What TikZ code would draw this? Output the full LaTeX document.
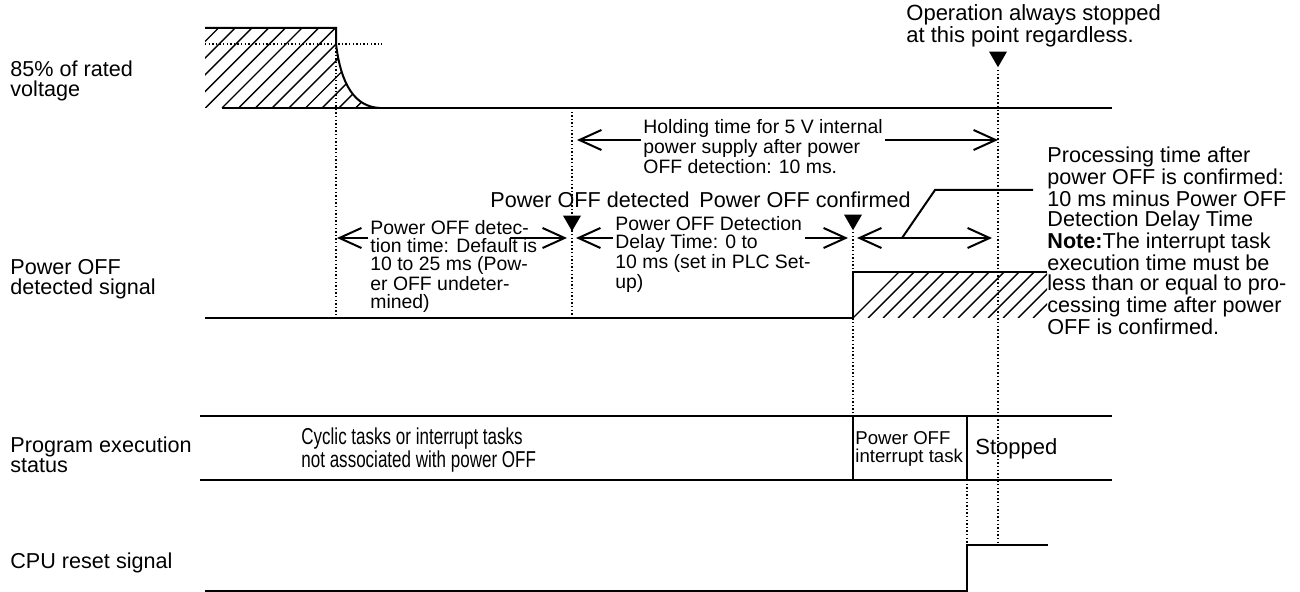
\documentclass[tikz,border=0pt]{standalone}
\usepackage{fontspec}
\setmainfont{Liberation Sans}
\newfontfamily\condfont[FakeStretch=0.74]{Liberation Sans}
\usetikzlibrary{arrows.meta,shapes.geometric}

\begin{document}
\begin{tikzpicture}[
  x=0.5pt, y=-0.5pt,
  sig/.style={line width=1pt},
  guide/.style={line width=0.7pt,dash pattern=on 0.7pt off 1.1pt},
  hatchline/.style={line width=0.7pt},
  dimline/.style={line width=1pt},
  >={Straight Barb[length=11pt,width=10pt]},
  tri/.style={regular polygon,regular polygon sides=3,shape border rotate=180,fill=black,inner sep=0pt,minimum size=10.4pt,anchor=corner 1},
  lbl/.style={anchor=base west,inner sep=0pt,align=left,font=\fontsize{10.8}{10}\selectfont},
  note/.style={anchor=base west,inner sep=0pt,align=left,font=\fontsize{9.7}{9}\selectfont},
  big/.style={anchor=base west,inner sep=0pt,align=left,font=\fontsize{10.8}{10}\selectfont}
]
  \fill[white] (0,0) rectangle (1300,592);
  \useasboundingbox (0,0) rectangle (1300,592);

  % signal names (anchored at the last line)
  \node[lbl] (volt) at (10,97) {85\% of rated\\voltage};
  \node[lbl] (detsig) at (10,295) {Power OFF\\detected signal};
  \node[lbl] (prog) at (10,473) {Program execution\\status};
  \node[lbl] (cpu) at (10,568) {CPU reset signal};

  % voltage
  \coordinate (vEdge) at (336,28);
  \coordinate (vKnee) at (336,44);
  \coordinate (vLow) at (380,108);
  \begin{scope}
    \clip (205,28) -- (vEdge) -- (vKnee) .. controls (341,85) and (355,107) .. (vLow) -- (205,108) -- cycle;
    \foreach \i in {-7,...,10}
      \draw[hatchline] ({222+16.7*\i},108) -- ++(90,-90);
  \end{scope}
  \draw[sig] (205,28) -- (vEdge) -- (vKnee) .. controls (341,85) and (355,107) .. (vLow);
  \draw[sig] (222,108) -- (1112,108);
  \draw[guide] (205,44) -- (382,44);

  % power OFF detected signal
  \begin{scope}
    \clip (853,272) rectangle (1047,318);
    \foreach \i in {0,...,16}
      \draw[hatchline] ({853+15*\i},318) -- ++(50,-50);
  \end{scope}
  \draw[sig] (205,318) -- (853,318) -- (853,272) -- (1047,272);

  % program execution status
  \draw[sig] (200,416) -- (1112,416);
  \draw[sig] (200,480) -- (1112,480);
  \draw[sig] (853,416) -- (853,480);
  \draw[sig] (967,416) -- (967,480);
  \node[lbl,font=\condfont\fontsize{11.5}{10.5}\selectfont] (cyc) at (301,468) {Cyclic tasks or interrupt tasks\\not associated with power OFF};
  \node[lbl,font=\fontsize{9.3}{9}\selectfont] (pint) at (855,463) {Power OFF\\interrupt task};
  \node[lbl,font=\fontsize{11}{10}\selectfont] (stop) at (975,455) {Stopped};

  % CPU reset signal
  \draw[sig] (205,591) -- (967,591) -- (967,545) -- (1048,545);

  % time marks
  \draw[guide] (336,44) -- (336,318);
  \draw[guide] (572,108) -- (572,318);
  \draw[guide] (998,70) -- (998,545);
  \draw[guide] (853,232) -- (853,416);
  \draw[guide] (967,480) -- (967,545);
  \node[tri] (detTri) at (572,232) {};
  \node[tri] (confTri) at (853,231) {};
  \node[tri] (stopTri) at (998,68) {};

  % events
  \node[big,font=\fontsize{11}{10}\selectfont] (opstop) at (906,43) {Operation always stopped\\at this point regardless.};
  \node[lbl] (detd) at (490,208) {Power OFF detected};
  \node[lbl] (conf) at (699,208) {Power OFF confirmed};

  % holding time
  \node[note] (hold) at (643,174) {Holding time for 5 V internal\\power supply after power\\OFF detection: 10 ms.};
  \coordinate (holdL) at (577,140);
  \coordinate (holdR) at (998,140);
  \draw[dimline,->] (641,140) -- (holdL);
  \draw[dimline,->] (885,140) -- (holdR);

  % detection time
  \node[note] (dtime) at (370,309) {Power OFF detec-\\tion time: Default is\\10 to 25 ms (Pow-\\er OFF undeter-\\mined)};
  \coordinate (dL) at (337,238);
  \coordinate (dR) at (567,238);
  \draw[dimline,->] (368,238) -- (dL);
  \draw[dimline,->] (510,238) -- (dR);

  % delay time
  \node[note] (delay) at (615,289) {Power OFF Detection\\Delay Time: 0 to\\10 ms (set in PLC Set-\\up)};
  \coordinate (yL) at (576,238);
  \coordinate (yR) at (848,238);
  \draw[dimline,->] (613,238) -- (yL);
  \draw[dimline,->] (805,238) -- (yR);

  % processing time
  \coordinate (pL) at (857,238);
  \coordinate (pR) at (992,238);
  \coordinate (pBend) at (935,190);
  \draw[dimline,<->] (pL) -- (pR);
  \draw[dimline] (902,238) -- (pBend) -- (1033,190);
  \node[big] (proc) at (1047,335) {Processing time after\\power OFF is confirmed:\\10 ms minus Power OFF\\Detection Delay Time\\\textbf{Note:}The interrupt task\\execution time must be\\less than or equal to pro-\\cessing time after power\\OFF is confirmed.};
\end{tikzpicture}
\end{document}
